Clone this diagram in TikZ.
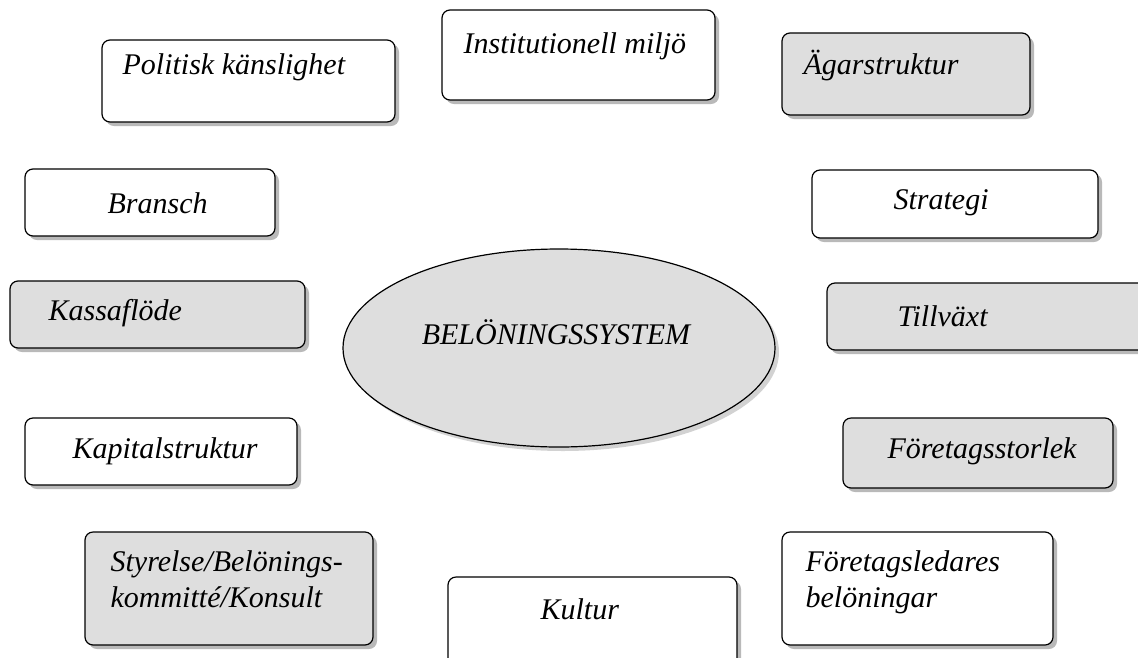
\documentclass[tikz,border=0pt]{standalone}
\usepackage{fontspec}
\setmainfont{Liberation Serif}
\usetikzlibrary{%
  shapes.geometric,% ellipse
  shadows,%
  positioning%
}
\definecolor{boxgray}{RGB}{222,222,222}

\begin{document}
\begin{tikzpicture}
[x=1pt, y=-1pt, line width=1.2pt,
factor/.style={rectangle, draw=black, rounded corners=8pt, inner sep=0pt, fill=white,
  drop shadow={shadow xshift=4pt, shadow yshift=-4pt, fill=black!55}},
greyfactor/.style={factor, fill=boxgray},
core/.style={ellipse, draw=black, inner sep=0pt, fill=boxgray,
  drop shadow={shadow xshift=4pt, shadow yshift=-4pt, fill=black!35}},
label/.style={anchor=west, inner sep=0pt, font=\fontsize{30}{36}\selectfont\itshape, align=left}]

\useasboundingbox (0,0) rectangle (1138,657);
\clip (0,0) rectangle (1138,657);

% faktorer runt systemet
\node[factor, minimum width=293pt, minimum height=82pt] (politik) at (248.5,81) {};
\node[factor, minimum width=273pt, minimum height=90pt] (institution) at (578.5,55) {};
\node[greyfactor, minimum width=248pt, minimum height=82pt] (agare) at (906,74) {};
\node[factor, minimum width=250pt, minimum height=67pt] (bransch) at (150,202.5) {};
\node[factor, minimum width=286pt, minimum height=68pt] (strategi) at (955,204) {};
\node[greyfactor, minimum width=295pt, minimum height=67pt] (kassa) at (157.5,314.5) {};
\node[greyfactor, minimum width=333pt, minimum height=67pt] (tillvaxt) at (993.5,316.5) {};
\node[factor, minimum width=272pt, minimum height=67pt] (kapital) at (161,451.5) {};
\node[greyfactor, minimum width=270pt, minimum height=70pt] (storlek) at (978,453) {};
\node[greyfactor, minimum width=288pt, minimum height=113pt] (styrelse) at (229,588.5) {};
\node[factor, minimum width=289pt, minimum height=113pt] (kultur) at (592.5,633.5) {};
\node[factor, minimum width=271pt, minimum height=113pt] (ledare) at (917.5,588.5) {};

% mitten
\node[core, minimum width=432pt, minimum height=198pt] (system) at (559,348) {};

% texter
\node[label] at (122,67) {Politisk känslighet};
\node[label] at (463,46) {Institutionell miljö};
\node[label] at (803,65) {Ägarstruktur};
\node[label] at (107,203) {Bransch};
\node[label] at (893,203) {Strategi};
\node[label] at (48,313) {Kassaflöde};
\node[label, anchor=center] at (556,332) {BELÖNINGSSYSTEM};
\node[label] at (897,316) {Tillväxt};
\node[label] at (72,451) {Kapitalstruktur};
\node[label] at (887,451) {Företagsstorlek};
\node[label, anchor=north west] at (110,550) {Styrelse/Belönings-\\kommitté/Konsult};
\node[label] at (540,609) {Kultur};
\node[label, anchor=north west] at (805,550) {Företagsledares\\belöningar};
\end{tikzpicture}
\end{document}
